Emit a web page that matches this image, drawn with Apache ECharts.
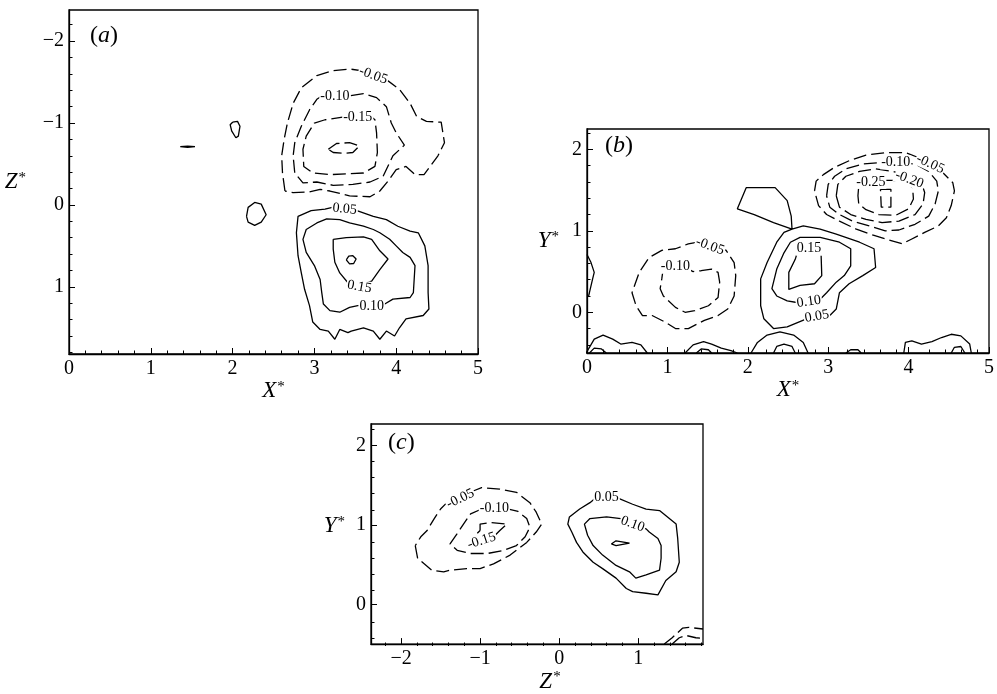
<!DOCTYPE html>
<html>
<head>
<meta charset="utf-8">
<script src="https://cdn.jsdelivr.net/npm/echarts@6/dist/echarts.min.js"></script>
<style>
  html, body { margin: 0; padding: 0; background: #fff; }
  #chart { width: 997px; height: 694px; }
</style>
</head>
<body>
<div id="chart"></div>
<script>
// ---------- tick labels ----------
const xTicksA = [0, 1, 2, 3, 4, 5];
const zTicksA = [-2, -1, 0, 1];
const xTicksB = [0, 1, 2, 3, 4, 5];
const yTicksB = [0, 1, 2];
const zTicksC = [-2, -1, 0, 1];
const yTicksC = [0, 1, 2];

// ---------- panel (a): X*-Z* plane, contour polylines [X*, Z*] ----------
const aNeg05 = [[2.64,-0.17],[2.61,-0.39],[2.60,-0.60],[2.63,-0.80],[2.67,-1.00],[2.74,-1.24],[2.84,-1.43],[3.03,-1.58],[3.23,-1.64],[3.43,-1.66],[3.64,-1.63],[3.88,-1.53],[4.04,-1.41],[4.17,-1.24],[4.25,-1.08],[4.37,-1.02],[4.55,-1.01],[4.59,-0.76],[4.51,-0.60],[4.43,-0.49],[4.34,-0.37],[4.23,-0.37],[4.12,-0.47],[4.00,-0.43],[3.90,-0.29],[3.80,-0.17],[3.68,-0.10],[3.43,-0.11],[3.19,-0.17],[3.07,-0.19],[2.94,-0.16],[2.74,-0.15],[2.64,-0.17]];
const aNeg10 = [[3.09,-1.33],[3.03,-1.29],[2.94,-1.16],[2.84,-0.96],[2.76,-0.76],[2.74,-0.60],[2.76,-0.39],[2.86,-0.27],[3.03,-0.28],[3.23,-0.24],[3.47,-0.25],[3.68,-0.28],[3.84,-0.35],[3.96,-0.60],[4.10,-0.73],[4.00,-0.88],[3.94,-1.00],[3.88,-1.20],[3.76,-1.31],[3.60,-1.36],[3.41,-1.33],[3.09,-1.33]];
const aNeg15 = [[3.39,-1.08],[3.68,-1.09],[3.74,-1.04],[3.76,-0.88],[3.77,-0.64],[3.74,-0.47],[3.60,-0.39],[3.39,-0.38],[3.19,-0.37],[2.98,-0.39],[2.87,-0.47],[2.86,-0.68],[2.90,-0.84],[3.00,-1.00],[3.13,-1.04],[3.39,-1.08]];
const aNeg20 = [[3.17,-0.68],[3.27,-0.75],[3.43,-0.76],[3.55,-0.72],[3.47,-0.64],[3.35,-0.63],[3.23,-0.64],[3.17,-0.68]];
const aPos05 = [[3.22,0.03],[3.52,0.07],[3.72,0.14],[3.88,0.18],[4.02,0.26],[4.17,0.32],[4.27,0.34],[4.35,0.50],[4.39,0.74],[4.39,1.07],[4.40,1.27],[4.33,1.35],[4.12,1.39],[4.04,1.50],[3.98,1.60],[3.88,1.54],[3.80,1.64],[3.72,1.54],[3.60,1.50],[3.45,1.54],[3.41,1.56],[3.31,1.52],[3.25,1.64],[3.17,1.54],[3.07,1.52],[2.98,1.43],[2.94,1.23],[2.88,1.03],[2.84,0.83],[2.80,0.62],[2.78,0.34],[2.80,0.14],[2.96,0.07],[3.13,0.05],[3.22,0.03]];
const aPos10 = [[3.53,1.23],[3.86,1.21],[3.96,1.15],[4.17,1.13],[4.21,1.07],[4.23,0.74],[4.17,0.64],[4.08,0.58],[4.00,0.50],[3.92,0.42],[3.80,0.34],[3.72,0.30],[3.60,0.26],[3.43,0.22],[3.31,0.18],[3.15,0.17],[3.03,0.22],[2.90,0.30],[2.86,0.42],[2.90,0.58],[3.00,0.74],[3.07,0.91],[3.09,1.07],[3.11,1.21],[3.19,1.29],[3.31,1.31],[3.43,1.25],[3.53,1.23]];
const aPos15 = [[3.23,0.42],[3.39,0.40],[3.60,0.39],[3.70,0.42],[3.80,0.56],[3.90,0.66],[3.80,0.79],[3.70,0.93],[3.55,0.98],[3.41,0.95],[3.31,0.83],[3.25,0.70],[3.23,0.54],[3.23,0.42]];
const aPos20 = [[3.39,0.67],[3.42,0.625],[3.47,0.62],[3.51,0.66],[3.48,0.715],[3.43,0.72],[3.39,0.67]];
const aBlob1 = [[2.00,-1.01],[2.06,-1.02],[2.09,-0.96],[2.07,-0.84],[2.04,-0.82],[1.99,-0.90],[1.97,-0.98],[2.00,-1.01]];
const aBlob2 = [[2.17,0.14],[2.19,0.03],[2.27,-0.03],[2.35,-0.01],[2.41,0.12],[2.35,0.21],[2.27,0.25],[2.19,0.21],[2.17,0.14]];
const aBlob3 = [[1.36,-0.712],[1.45,-0.719],[1.54,-0.712],[1.45,-0.703],[1.36,-0.712]];

// label anchors [X*, Z*, level, tilt]
const labelsA = [[3.72,-1.58,-0.05,-20],[3.25,-1.32,-0.10,0],[3.53,-1.07,-0.15,0],[3.37,0.05,0.05,-5],[3.70,1.24,0.10,0],[3.55,1.00,0.15,-10]];

// ---------- panel (b): X*-Y* plane ----------
const bNeg05R = [[2.83,1.49],[2.85,1.61],[2.94,1.69],[3.08,1.78],[3.26,1.86],[3.47,1.93],[3.71,1.96],[3.96,1.96],[4.12,1.90],[4.29,1.82],[4.43,1.71],[4.55,1.59],[4.57,1.49],[4.53,1.31],[4.47,1.16],[4.37,1.06],[4.20,0.98],[4.04,0.90],[3.92,0.84],[3.75,0.89],[3.55,0.95],[3.35,1.02],[3.14,1.12],[2.98,1.20],[2.88,1.31],[2.83,1.49]];
const bNeg10R = [[2.98,1.43],[3.00,1.57],[3.08,1.67],[3.22,1.76],[3.43,1.82],[3.67,1.84],[3.88,1.84],[4.08,1.82],[4.25,1.73],[4.35,1.61],[4.37,1.49],[4.33,1.33],[4.25,1.18],[4.08,1.08],[3.88,1.01],[3.71,1.00],[3.51,1.06],[3.30,1.12],[3.14,1.20],[3.02,1.29],[2.98,1.43]];
const bNeg20R = [[3.10,1.43],[3.12,1.57],[3.22,1.67],[3.39,1.73],[3.59,1.76],[3.80,1.73],[4.00,1.67],[4.16,1.59],[4.20,1.47],[4.18,1.33],[4.08,1.20],[3.88,1.12],[3.67,1.10],[3.47,1.14],[3.28,1.20],[3.14,1.29],[3.10,1.43]];
const bNeg25R = [[3.37,1.43],[3.38,1.55],[3.47,1.60],[3.61,1.62],[3.80,1.62],[3.96,1.60],[4.05,1.53],[4.06,1.39],[4.00,1.27],[3.84,1.19],[3.63,1.20],[3.47,1.26],[3.38,1.33],[3.37,1.43]];
const bNeg30R = [[3.65,1.51],[3.78,1.51],[3.78,1.29],[3.66,1.29],[3.65,1.51]];
const bNeg05L = [[1.38,0.86],[1.26,0.84],[1.10,0.78],[0.93,0.76],[0.77,0.67],[0.65,0.49],[0.56,0.24],[0.61,0.08],[0.69,-0.04],[0.81,-0.04],[0.97,-0.12],[1.10,-0.20],[1.26,-0.20],[1.46,-0.10],[1.63,-0.04],[1.75,0.04],[1.83,0.20],[1.85,0.45],[1.83,0.61],[1.73,0.76],[1.67,0.80],[1.38,0.86]];
const bNeg10L = [[0.95,0.55],[0.93,0.41],[0.91,0.29],[0.95,0.20],[1.10,0.06],[1.22,0.00],[1.34,0.02],[1.51,0.08],[1.63,0.18],[1.65,0.37],[1.63,0.49],[1.55,0.53],[1.42,0.51],[1.32,0.50],[1.26,0.53],[1.10,0.56],[0.95,0.55]];
const bPos05 = [[2.55,1.02],[2.69,1.06],[2.90,1.02],[3.10,0.96],[3.39,0.86],[3.57,0.78],[3.59,0.55],[3.43,0.45],[3.26,0.35],[3.14,0.24],[3.10,0.04],[3.02,-0.04],[2.86,-0.05],[2.73,-0.08],[2.49,-0.18],[2.32,-0.20],[2.20,-0.08],[2.16,0.08],[2.16,0.41],[2.24,0.61],[2.36,0.86],[2.45,0.98],[2.55,1.02],[2.32,1.10],[2.08,1.20],[1.87,1.27],[1.98,1.53],[2.34,1.53],[2.49,1.37],[2.54,1.18],[2.55,1.02]];
const bPos10 = [[2.90,0.16],[2.98,0.24],[3.10,0.37],[3.20,0.45],[3.28,0.57],[3.28,0.78],[3.14,0.86],[2.90,0.92],[2.65,0.92],[2.53,0.86],[2.45,0.73],[2.36,0.53],[2.30,0.29],[2.36,0.20],[2.49,0.14],[2.61,0.12],[2.76,0.13],[2.90,0.16]];
const bPos15 = [[2.91,0.76],[2.92,0.45],[2.83,0.35],[2.65,0.33],[2.51,0.28],[2.51,0.49],[2.59,0.65],[2.63,0.78],[2.76,0.78],[2.91,0.76]];
const bEdge = [[0,0.71],[0.05,0.61],[0.09,0.49],[0.07,0.41],[0.03,0.24],[0.02,0.20]];
const bBot1o = [[-0.01,-0.5],[0.09,-0.33],[0.20,-0.28],[0.32,-0.33],[0.42,-0.39],[0.56,-0.37],[0.67,-0.40],[0.75,-0.5]];
const bBot1i = [[0.03,-0.5],[0.09,-0.44],[0.18,-0.45],[0.24,-0.5]];
const bBot2o = [[1.22,-0.5],[1.32,-0.40],[1.45,-0.36],[1.55,-0.39],[1.67,-0.44],[1.79,-0.47],[1.87,-0.5]];
const bBot2i = [[1.36,-0.5],[1.42,-0.45],[1.51,-0.46],[1.55,-0.5]];
const bBot3o = [[2.04,-0.5],[2.12,-0.37],[2.24,-0.28],[2.40,-0.24],[2.57,-0.28],[2.69,-0.37],[2.75,-0.5]];
const bBot3i = [[2.32,-0.5],[2.36,-0.42],[2.45,-0.39],[2.55,-0.42],[2.59,-0.5]];
const bBot4 = [[3.22,-0.5],[3.28,-0.46],[3.37,-0.46],[3.41,-0.5]];
const bBot5o = [[3.94,-0.5],[3.96,-0.37],[4.04,-0.35],[4.16,-0.39],[4.29,-0.36],[4.41,-0.31],[4.53,-0.27],[4.65,-0.29],[4.76,-0.39],[4.78,-0.5]];
const bBot5i = [[4.53,-0.5],[4.57,-0.43],[4.65,-0.42],[4.70,-0.5]];

const labelsB = [[4.27,1.82,-0.05,-25],[3.84,1.84,-0.10,0],[4.01,1.63,-0.20,-20],[3.53,1.60,-0.25,0],[1.53,0.81,-0.05,-20],[1.10,0.56,-0.10,0],[2.86,-0.05,0.05,10],[2.76,0.13,0.10,8],[2.76,0.78,0.15,0]];

// ---------- panel (c): Z*-Y* plane ----------
const cNeg05 = [[-1.82,0.74],[-1.79,0.58],[-1.61,0.43],[-1.46,0.41],[-1.38,0.43],[-1.17,0.45],[-1.00,0.45],[-0.83,0.51],[-0.62,0.62],[-0.41,0.78],[-0.29,0.91],[-0.22,1.01],[-0.29,1.16],[-0.37,1.28],[-0.54,1.41],[-0.75,1.45],[-0.98,1.47],[-1.08,1.43],[-1.25,1.33],[-1.42,1.28],[-1.50,1.20],[-1.58,1.08],[-1.67,0.93],[-1.75,0.85],[-1.82,0.74]];
const cNeg10 = [[-0.98,1.20],[-1.12,1.14],[-1.21,1.01],[-1.29,0.89],[-1.38,0.76],[-1.29,0.68],[-1.12,0.64],[-0.91,0.64],[-0.70,0.68],[-0.54,0.74],[-0.43,0.85],[-0.37,0.97],[-0.41,1.08],[-0.52,1.17],[-0.64,1.20],[-0.82,1.21],[-0.98,1.20]];
const cNeg15 = [[-1.00,0.93],[-1.00,1.01],[-0.87,1.03],[-0.66,1.01],[-0.75,0.93],[-0.83,0.85],[-0.91,0.76],[-1.04,0.72],[-1.10,0.76],[-1.06,0.87],[-1.00,0.93]];
const cPos05 = [[0.45,1.33],[0.60,1.35],[0.76,1.33],[0.93,1.26],[1.10,1.20],[1.27,1.18],[1.48,1.01],[1.50,0.83],[1.52,0.53],[1.48,0.41],[1.35,0.30],[1.25,0.12],[1.10,0.14],[0.93,0.16],[0.85,0.20],[0.72,0.33],[0.55,0.45],[0.43,0.53],[0.30,0.66],[0.22,0.78],[0.16,0.91],[0.11,1.01],[0.13,1.10],[0.26,1.20],[0.39,1.28],[0.45,1.33]];
const cPos10 = [[0.78,1.08],[0.60,1.10],[0.39,1.08],[0.32,1.01],[0.36,0.87],[0.43,0.74],[0.55,0.62],[0.72,0.49],[0.89,0.41],[0.97,0.33],[1.10,0.37],[1.27,0.43],[1.29,0.58],[1.29,0.74],[1.25,0.83],[1.14,0.91],[1.10,0.95],[0.93,1.01],[0.78,1.08]];
const cPos15 = [[0.66,0.76],[0.72,0.80],[0.89,0.77],[0.72,0.74],[0.66,0.76]];
const cCorner05 = [[1.33,-0.50],[1.43,-0.42],[1.56,-0.30],[1.64,-0.29],[1.82,-0.31]];
const cCorner10 = [[1.43,-0.50],[1.52,-0.42],[1.60,-0.39],[1.73,-0.42],[1.82,-0.43]];

const labelsC = [[-1.25,1.33,-0.05,25],[-0.82,1.21,-0.10,0],[-0.98,0.80,-0.15,18],[0.60,1.35,0.05,0],[0.93,1.01,0.10,-20]];

// contour sets: level decides solid (positive) or dashed (negative)
const contoursA = [
  { level: -0.05, pts: aNeg05 }, { level: -0.10, pts: aNeg10 }, { level: -0.15, pts: aNeg15 }, { level: -0.20, pts: aNeg20 },
  { level: 0.05, pts: aPos05 }, { level: 0.10, pts: aPos10 }, { level: 0.15, pts: aPos15 }, { level: 0.20, pts: aPos20 },
  { level: 0.05, pts: aBlob1 }, { level: 0.05, pts: aBlob2 }, { level: 0.05, pts: aBlob3 }
];
const contoursB = [
  { level: -0.05, pts: bNeg05R }, { level: -0.10, pts: bNeg10R }, { level: -0.20, pts: bNeg20R }, { level: -0.25, pts: bNeg25R }, { level: -0.30, pts: bNeg30R },
  { level: -0.05, pts: bNeg05L }, { level: -0.10, pts: bNeg10L },
  { level: 0.05, pts: bPos05 }, { level: 0.10, pts: bPos10 }, { level: 0.15, pts: bPos15 },
  { level: 0.05, pts: bEdge },
  { level: 0.05, pts: bBot1o }, { level: 0.10, pts: bBot1i }, { level: 0.05, pts: bBot2o }, { level: 0.10, pts: bBot2i },
  { level: 0.05, pts: bBot3o }, { level: 0.10, pts: bBot3i }, { level: 0.05, pts: bBot4 },
  { level: 0.05, pts: bBot5o }, { level: 0.10, pts: bBot5i }
];
const contoursC = [
  { level: -0.05, pts: cNeg05 }, { level: -0.10, pts: cNeg10 }, { level: -0.15, pts: cNeg15 },
  { level: 0.05, pts: cPos05 }, { level: 0.10, pts: cPos10 }, { level: 0.15, pts: cPos15 },
  { level: -0.05, pts: cCorner05 }, { level: -0.10, pts: cCorner10 }
];

// ---------- styling helpers ----------
const SERIF = '"Liberation Serif", serif';
const INK = '#000';

const fmtTick = v => (v < 0 ? '\u2212' + Math.abs(v) : String(v));

function minorTicks(min, max, step) {
  const out = [];
  const k0 = Math.ceil(min / step - 1e-9), k1 = Math.floor(max / step + 1e-9);
  for (let k = k0; k <= k1; k++) {
    const v = +(k * step).toFixed(6);
    if (Math.abs(v - Math.round(v)) > 1e-6) out.push(v);
  }
  return out;
}

const nameRich = {
  v: { fontFamily: SERIF, fontStyle: 'italic', fontSize: 23, color: INK },
  s: { fontFamily: SERIF, fontSize: 15, color: INK, verticalAlign: 'top', padding: [0, 0, 0, 1] }
};

const panels = [
  {
    tag: 'a', tagPos: [90, 24], contours: contoursA, labels: labelsA,
    grid: { left: 69, top: 10, width: 409, height: 344 },
    x: { min: 0, max: 5, ticks: xTicksA, name: 'X', gap: 24, pad: [0, 0, 0, 0] },
    y: { min: -2.38, max: 1.82, ticks: zTicksA, name: 'Z', gap: 43, pad: [0, 0, 0, 0], inverse: true }
  },
  {
    tag: 'b', tagPos: [605, 134], contours: contoursB, labels: labelsB,
    grid: { left: 587, top: 129, width: 407, height: 224 },
    x: { min: 0, max: 5, ticks: xTicksB, name: 'X', gap: 24, pad: [0, 0, 0, 0] },
    y: { min: -0.5, max: 2.25, ticks: yTicksB, name: 'Y', gap: 28, pad: [0, 0, 0, 0] }
  },
  {
    tag: 'c', tagPos: [388, 431], contours: contoursC, labels: labelsC,
    grid: { left: 371, top: 424, width: 332, height: 222 },
    x: { min: -2.38, max: 1.82, ticks: zTicksC, name: 'Z', gap: 13, pad: [0, 0, 0, 26] },
    y: { min: -0.5, max: 2.27, ticks: yTicksC, name: 'Y', gap: 26, pad: [0, 0, 16, 0] }
  }
];

const option = {
  backgroundColor: '#fff',
  animation: false,
  grid: [], xAxis: [], yAxis: [], series: [], graphic: []
};

panels.forEach((p, i) => {
  const gMain = 2 * i, gMinor = 2 * i + 1;
  option.grid.push(Object.assign({ show: true, borderColor: INK, borderWidth: 1.3, containLabel: false }, p.grid));
  option.grid.push(Object.assign({ show: false, containLabel: false }, p.grid));

  const mainAxis = (ax, isX) => ({
    gridIndex: gMain, type: 'value', min: ax.min, max: ax.max, inverse: !!ax.inverse,
    position: isX ? 'bottom' : 'left',
    axisLine: { show: true, onZero: false, lineStyle: { color: INK, width: 1.3 } },
    axisTick: { show: true, inside: true, length: 6, customValues: ax.ticks, lineStyle: { color: INK, width: 1 } },
    axisLabel: { customValues: ax.ticks, formatter: fmtTick, color: INK, fontFamily: SERIF, fontSize: 20, margin: 5 },
    splitLine: { show: false },
    name: '{v|' + ax.name + '}{s|*}', nameLocation: 'middle', nameGap: ax.gap, nameRotate: 0,
    nameTextStyle: { rich: nameRich, padding: ax.pad }
  });
  const minorAxis = (ax, isX) => ({
    gridIndex: gMinor, type: 'value', min: ax.min, max: ax.max, inverse: !!ax.inverse,
    position: isX ? 'bottom' : 'left',
    axisLine: { show: false, onZero: false },
    axisTick: { show: true, inside: true, length: 3.5, customValues: minorTicks(ax.min, ax.max, 0.2), lineStyle: { color: INK, width: 1 } },
    axisLabel: { show: false },
    splitLine: { show: false }
  });

  option.xAxis.push(mainAxis(p.x, true), minorAxis(p.x, true));
  option.yAxis.push(mainAxis(p.y, false), minorAxis(p.y, false));
  const axisIdx = 2 * i;

  p.contours.forEach(c => {
    option.series.push({
      type: 'line', xAxisIndex: axisIdx, yAxisIndex: axisIdx,
      data: c.pts, symbol: 'none', silent: true, clip: true, z: 2,
      lineStyle: { color: INK, width: 1.3, type: c.level < 0 ? [13, 5] : 'solid' }
    });
  });

  // contour level labels, drawn over the lines
  option.series.push({
    type: 'scatter', xAxisIndex: axisIdx, yAxisIndex: axisIdx, silent: true, z: 5,
    symbol: 'circle', symbolSize: 2, itemStyle: { color: 'rgba(255,255,255,0)' },
    data: p.labels.map(l => ({
      value: [l[0], l[1]], name: l[2].toFixed(2),
      label: { rotate: l[3] }
    })),
    label: {
      show: true, position: 'inside', formatter: d => d.name,
      fontFamily: SERIF, fontSize: 14, color: INK, opacity: 1,
      backgroundColor: '#fff', padding: [0, 1]
    }
  });

  option.graphic.push({
    type: 'text', left: p.tagPos[0], top: p.tagPos[1], z: 10,
    style: {
      text: '{p|(}{i|' + p.tag + '}{p|)}',
      rich: {
        p: { fontFamily: SERIF, fontSize: 24, fill: INK },
        i: { fontFamily: SERIF, fontSize: 24, fontStyle: 'italic', fill: INK }
      }
    }
  });
});

const chart = echarts.init(document.getElementById('chart'), null, { renderer: 'canvas' });
chart.setOption(option);
</script>
</body>
</html>
